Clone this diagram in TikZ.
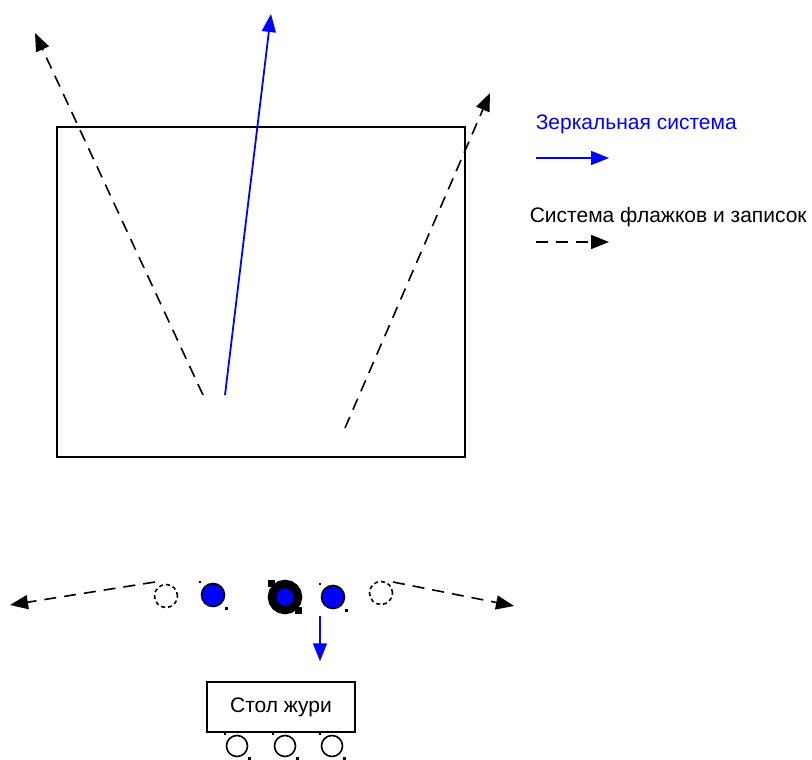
\documentclass[tikz,border=0pt]{standalone}
\usepackage{fontspec}
\setmainfont{Liberation Sans}
\usetikzlibrary{arrows.meta}
\definecolor{mirrorblue}{RGB}{0,0,255}

\begin{document}
\begin{tikzpicture}[x=1pt, y=-1pt, line width=1.6pt,
    mirror/.style={mirrorblue, line width=1.8pt, -{Triangle[length=18pt, width=14pt]}},
    flag/.style={black, dash pattern=on 12pt off 8pt, -{Triangle[length=18pt, width=14pt]}},
    seat/.style={circle, draw, minimum size=23pt, inner sep=0pt},
    member/.style={seat, fill=mirrorblue},
    empty/.style={seat, dash pattern=on 4pt off 3pt},
    lbl/.style={font=\fontsize{21}{25}\selectfont, inner sep=0pt, anchor=west}]
  \useasboundingbox (0,0) rectangle (812,760);

  % --- stage ---
  \draw[line width=1.5pt] (57,127) rectangle (465,457);

  \coordinate (m-src) at (225,395);
  \coordinate (m-dst) at (271,14);
  \coordinate (fl-src) at (203,395);
  \coordinate (fl-dst) at (35,33);
  \coordinate (fr-src) at (345,428);
  \coordinate (fr-dst) at (490,93);

  \draw[mirror] (m-src) -- (m-dst);
  \draw[flag] (fl-src) -- (fl-dst);
  \draw[flag] (fr-src) -- (fr-dst);

  % --- legend ---
  \node[lbl, text=mirrorblue] (leg-m) at (535,124) {Зеркальная система};
  \coordinate (lm-a) at (536,158);
  \coordinate (lm-b) at (609,158);
  \draw[mirror] (lm-a) -- (lm-b);

  \node[lbl] (leg-f) at (529,217) {Система флажков и записок};
  \coordinate (lf-a) at (536,242);
  \coordinate (lf-b) at (609,242);
  \draw[flag] (lf-a) -- (lf-b);

  % --- row of seats ---
  \node[empty] (s1) at (166,596) {};
  \node[member] (s2) at (213,595) {};
  \node[circle, draw, line width=8.5pt, fill=mirrorblue, minimum size=26pt,
        inner sep=0pt] (s3) at (285,597) {};
  \node[member] (s4) at (333,597) {};
  \node[empty] (s5) at (381,593) {};

  % handles of the ring
  \fill (268,580) rectangle (275,587);
  \fill (295,607) rectangle (302,614);

  \coordinate (al-src) at (155,582);
  \coordinate (al-dst) at (10,605);
  \coordinate (ar-src) at (393,582);
  \coordinate (ar-dst) at (514,606);
  \draw[flag] (al-src) -- (al-dst);
  \draw[flag] (ar-src) -- (ar-dst);

  % --- jury ---
  \node[draw, line width=1.5pt, minimum width=148pt, minimum height=50pt,
        font=\fontsize{21}{25}\selectfont] (jury) at (281,707) {Стол жури};
  \draw[mirror] ([yshift=-7pt]s4.south -| 320,0) -- ([yshift=20pt]jury.north -| 320,0);

  \node[seat, minimum size=21pt] (j1) at (237,746) {};
  \node[seat, minimum size=21pt] (j2) at (285,746) {};
  \node[seat, minimum size=21pt] (j3) at (332,746) {};

  % small corner dots
  \foreach \n in {s2,s4,j1,j2,j3}{
    \fill ([shift={(-2,-2)}]\n.west |- \n.north) rectangle +(2.5,2.5);
    \fill (\n.east |- \n.south) rectangle +(2.5,2.5);
  }
\end{tikzpicture}
\end{document}
